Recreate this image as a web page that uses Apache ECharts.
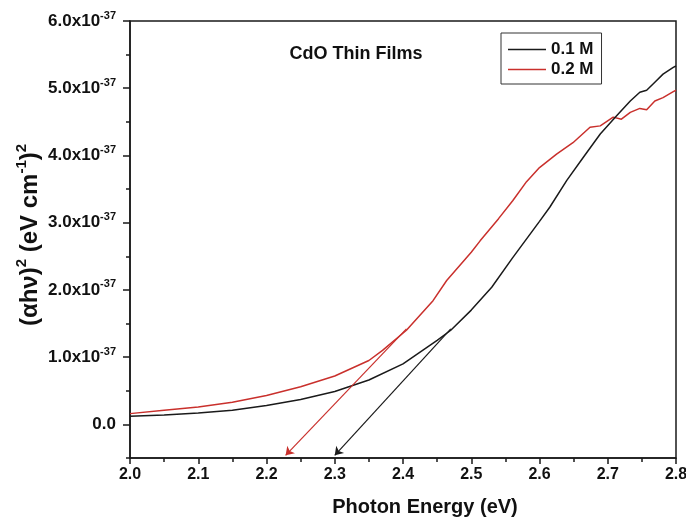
<!DOCTYPE html>
<html>
<head>
<meta charset="utf-8">
<script src="https://cdn.jsdelivr.net/npm/echarts@6/dist/echarts.min.js"></script>
<style>html,body{margin:0;padding:0;background:#fff}#c{width:686px;height:520px}</style>
</head>
<body>
<div id="c"></div>
<script>
// Data (y values in units of 1e-37 eV^2 cm^-2)
const seriesNames = ['0.1 M', '0.2 M'];
const black01 = [
  [2.00,0.12],[2.05,0.14],[2.10,0.17],[2.15,0.21],[2.20,0.28],[2.25,0.37],[2.30,0.49],
  [2.35,0.66],[2.40,0.90],[2.45,1.25],[2.47,1.40],[2.50,1.70],[2.53,2.04],[2.56,2.47],
  [2.60,3.02],[2.615,3.23],[2.64,3.63],[2.664,3.97],[2.689,4.32],[2.713,4.59],[2.733,4.81],
  [2.747,4.94],[2.757,4.97],[2.769,5.09],[2.781,5.21],[2.796,5.31],[2.80,5.33]
];
const red02 = [
  [2.00,0.16],[2.05,0.21],[2.10,0.26],[2.15,0.33],[2.20,0.43],[2.25,0.56],[2.30,0.72],
  [2.35,0.95],[2.37,1.10],[2.405,1.40],[2.444,1.84],[2.464,2.14],[2.50,2.56],[2.513,2.73],
  [2.54,3.06],[2.561,3.33],[2.581,3.61],[2.60,3.82],[2.625,4.02],[2.649,4.19],[2.674,4.42],
  [2.689,4.44],[2.708,4.57],[2.720,4.54],[2.733,4.64],[2.747,4.70],[2.757,4.68],[2.769,4.81],
  [2.781,4.86],[2.796,4.95],[2.80,4.97]
];
const redArrow = [[2.405,1.42],[2.228,-0.46]];
const blackArrow = [[2.47,1.42],[2.300,-0.46]];
const yTickValues = [0,1,2,3,4,5,6];
const yExponent = '-37';
const titleText = 'CdO Thin Films';
const xName = 'Photon Energy (eV)';

const FF = '"Liberation Sans", Arial, sans-serif';
const BLACK = '#1a1a1a', RED = '#c9302c';

const chart = echarts.init(document.getElementById('c'), null, {renderer:'canvas'});
const arrowML = (pts, color) => ({
  silent: true, symbol: ['none','arrow'], symbolSize: 8,
  label: {show:false}, emphasis:{disabled:true},
  lineStyle: {color: color, width: 1.2, type: 'solid'},
  data: [[{coord: pts[0]}, {coord: pts[1]}]]
});
chart.setOption({
  animation: false,
  backgroundColor: '#fff',
  grid: {left:130, right:10, top:21, bottom:62, show:true, borderColor:BLACK, borderWidth:1.5,
    backgroundColor:'transparent', containLabel:false, outerBoundsMode:'none'},
  legend: {
    data: seriesNames, orient:'vertical', left: 501, top: 33,
    borderColor:'#333', borderWidth:1, padding:[8,8,6,7], itemGap: 3,
    itemWidth: 38, itemHeight: 1.5, icon: 'rect',
    textStyle: {fontFamily:FF, fontWeight:'bold', fontSize:17, color:'#111'}
  },
  xAxis: {
    type:'value', min:2.0, max:2.8, interval:0.1,
    axisLine:{show:true, onZero:false, lineStyle:{color:BLACK, width:1.5}},
    axisTick:{show:true, length:6, lineStyle:{color:BLACK, width:1.5}},
    minorTick:{show:true, splitNumber:2, length:4, lineStyle:{color:BLACK, width:1.5}},
    splitLine:{show:false}, minorSplitLine:{show:false},
    axisLabel:{fontFamily:FF, fontWeight:'bold', fontSize:16, color:'#111', margin:9,
      formatter: v => v.toFixed(1)}
  },
  yAxis: [{
    type:'value', min:-0.5, max:6, interval:0.5,
    axisLine:{show:true, onZero:false, lineStyle:{color:BLACK, width:1.5}},
    axisTick:{show:true, length:7, customValues: yTickValues, lineStyle:{color:BLACK, width:1.5}},
    splitLine:{show:false},
    axisLabel:{customValues: yTickValues, margin:14, color:'#111',
      formatter: v => v === 0 ? '{b|0.0}' : '{b|' + v.toFixed(1) + 'x10}{s|' + yExponent + '}',
      rich: {
        b:{fontFamily:FF, fontWeight:'bold', fontSize:17, color:'#111', lineHeight:22},
        s:{fontFamily:FF, fontWeight:'bold', fontSize:11, color:'#111', lineHeight:10, verticalAlign:'top'}
      }}
  },{
    type:'value', min:-0.5, max:6, interval:0.5, position:'left',
    axisLine:{show:false}, splitLine:{show:false}, axisLabel:{show:false},
    axisTick:{show:true, length:4, lineStyle:{color:BLACK, width:1.5}}
  }],
  graphic: [
    {type:'text', x: 356, y: 54, style:{text: titleText, font:'bold 18px ' + FF, fill:'#111', align:'center', verticalAlign:'middle'}},
    {type:'text', x: 425, y: 507, style:{text: xName, font:'bold 20px ' + FF, fill:'#111', align:'center', verticalAlign:'middle'}},
    {type:'text', x: 30, y: 235, rotation: Math.PI/2,
      style:{text:'{b|(αhν)}{s|2}{b| (eV cm}{s|-1}{b|)}{s|2}', align:'center', verticalAlign:'middle',
        rich:{
          b:{font:'bold 24px ' + FF, fill:'#111', lineHeight:32},
          s:{font:'bold 15px ' + FF, fill:'#111', lineHeight:14, verticalAlign:'top'}
        }}}
  ],
  series: [
    {name: seriesNames[0], type:'line', data: black01, symbol:'none', smooth:false,
     lineStyle:{color:BLACK, width:1.5}, itemStyle:{color:BLACK}, z:3,
     markLine: arrowML(blackArrow, BLACK)},
    {name: seriesNames[1], type:'line', data: red02, symbol:'none', smooth:false,
     lineStyle:{color:RED, width:1.5}, itemStyle:{color:RED}, z:2,
     markLine: arrowML(redArrow, RED)}
  ]
});
</script>
</body>
</html>
